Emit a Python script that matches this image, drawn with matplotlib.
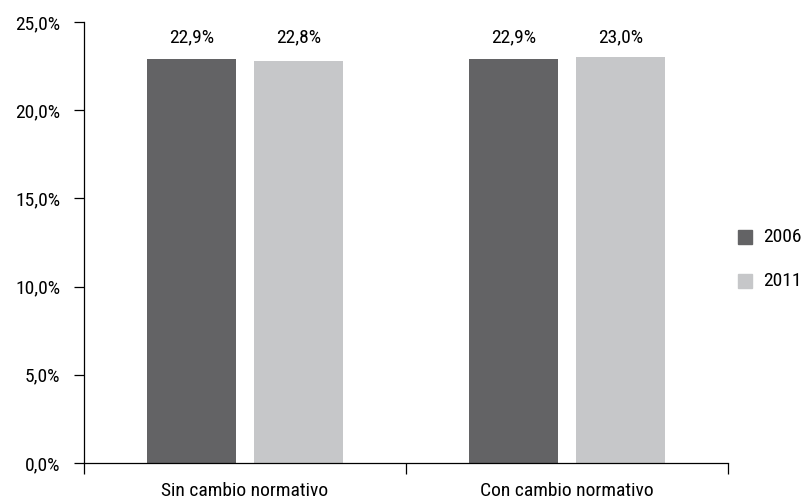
import matplotlib.pyplot as plt
from matplotlib.patches import Rectangle
import numpy as np

# ---------------------  Data  --------------------------
categories = ["Sin cambio normativo", "Con cambio normativo"]
years = ["2006", "2011"]
values_2006 = [22.9, 22.9]
values_2011 = [22.8, 23.0]

colors = ["#636365", "#c6c7c9"]

plt.rcParams['font.family'] = ['Roboto Condensed', 'DejaVu Sans']
plt.rcParams['font.size'] = 14

W, H = 806, 501
fig = plt.figure(figsize=(W / 100, H / 100), dpi=100)
ax = fig.add_axes([84 / W, 1 - 463 / H, (728 - 84) / W, (463 - 22) / H])


def pct(v):
    return "{:.1f}%".format(v).replace(".", ",")


x = np.arange(len(categories))
width = 0.276
offset = 0.166
label_y = 24.15  # all value labels sit on one line above the bars

for vals, off, col in ((values_2006, -offset, colors[0]), (values_2011, offset, colors[1])):
    bars = ax.bar(x + off, vals, width, color=col)
    for b, v in zip(bars, vals):
        ax.text(b.get_x() + b.get_width() / 2, label_y, pct(v),
                ha="center", va="center", fontsize=14)

ax.set_xlim(-0.5, 1.5)
ax.set_ylim(0, 25)
yt = np.arange(0, 25.1, 5)
ax.set_yticks(yt)
ax.set_yticklabels([pct(t) for t in yt])

# boundaries get the tick marks, centres get the labels
ax.set_xticks([-0.5, 0.5, 1.5])
ax.set_xticklabels([])
ax.set_xticks(x, minor=True)
ax.set_xticklabels(categories, minor=True)
ax.tick_params(axis="x", which="major", length=8, width=0.9, direction="out")
ax.tick_params(axis="x", which="minor", length=0, pad=14)
ax.tick_params(axis="y", length=7, width=0.9, pad=10)

for side in ("top", "right"):
    ax.spines[side].set_visible(False)
ax.spines["left"].set_linewidth(0.9)
ax.spines["bottom"].set_linewidth(0.9)

# legend: colour squares with the year beside them
for i, (c, yr) in enumerate(zip(colors, years)):
    cy = 237 + 44 * i
    fig.patches.append(Rectangle((738 / W, 1 - (cy + 7) / H), 14 / W, 14 / H,
                                 transform=fig.transFigure, color=c))
    fig.text(763 / W, 1 - cy / H, yr, ha="left", va="center", fontsize=14)

fig.savefig("out.png", dpi=100)
